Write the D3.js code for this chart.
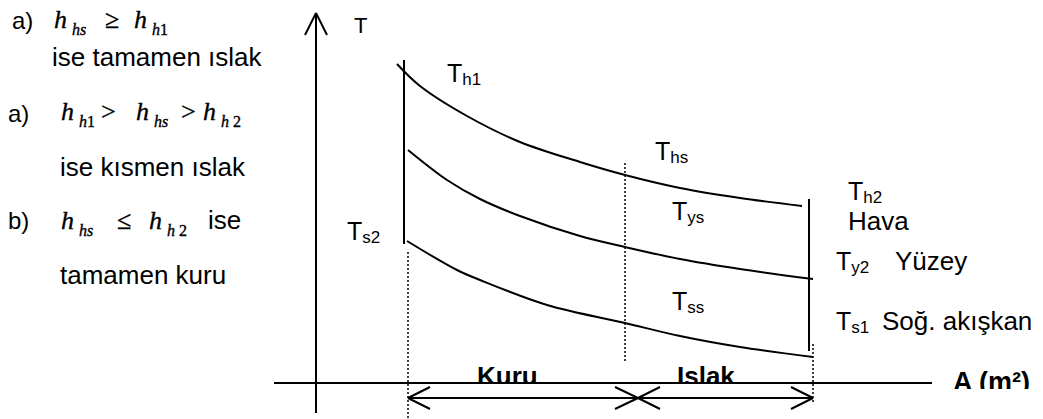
<!DOCTYPE html>
<html lang="tr">
<head>
  <meta charset="utf-8">
  <title>Islak / kuru yüzey</title>
  <script src="https://cdn.jsdelivr.net/npm/d3@7/dist/d3.min.js"></script>
  <style>
    body { margin: 0; background: #fff; }
    svg { display: block; }
    .sans { font-family: "Liberation Sans", Arial, sans-serif; }
    .math { font-family: "Liberation Serif", "Times New Roman", serif; stroke: #000; stroke-width: 0.35px; }
  </style>
</head>
<body>
  <div id="chart"></div>
  <script>
    var width = 1043, height = 419;

    // curves (A and T in arbitrary units)
    var thA = [81, 104, 151, 204, 264, 309, 364, 424, 486];
    var thT = [319, 297, 267, 241, 221, 208, 195, 185, 177];
    var tyA = [92, 131, 164, 204, 264, 309, 364, 424, 497];
    var tyT = [233, 203, 184, 167, 147, 136, 124, 114, 104];
    var tsA = [91, 141, 164, 231, 309, 364, 424, 497];
    var tsT = [142, 113, 103, 78, 60, 47, 36, 26];

    // boundaries: start, dry/wet change, end
    var aStart = 92, aChange = 309, aEnd = 497;

    var svg = d3.select('#chart').append('svg')
      .attr('width', width)
      .attr('height', height);

    var x = d3.scaleLinear().domain([0, 616]).range([316, 932]);
    var y = d3.scaleLinear().domain([0, 370]).range([383, 13]);

    var line = d3.line()
      .x(function (d) { return x(d[0]); })
      .y(function (d) { return y(d[1]); })
      .curve(d3.curveCatmullRom.alpha(0.5));

    function seg(a1, t1, a2, t2, dash) {
      svg.append('line')
        .attr('x1', x(a1)).attr('y1', y(t1))
        .attr('x2', x(a2)).attr('y2', y(t2))
        .attr('stroke', '#000')
        .attr('stroke-width', dash ? 1.5 : 2)
        .attr('stroke-dasharray', dash ? '2,2' : null);
    }

    // curves
    [[thA, thT], [tyA, tyT], [tsA, tsT]].forEach(function (c) {
      svg.append('path')
        .datum(d3.zip(c[0], c[1]))
        .attr('d', line)
        .attr('fill', 'none')
        .attr('stroke', '#000')
        .attr('stroke-width', 2);
    });

    // solid verticals (inlet / outlet)
    seg(88, 323, 88, 139);
    seg(493, 184, 493, 32);

    // dotted guides
    seg(aStart, 131, aStart, -36, true);
    seg(aChange, 220, aChange, 21, true);
    seg(aEnd, 39, aEnd, -20, true);

    // axes
    seg(0, 370, 0, -30);
    seg(0, 370, -11, 348);
    seg(0, 370, 11, 348);
    seg(-42, 0, 616, 0);

    // double arrow under the axis
    seg(aStart, -15, aEnd, -15);
    seg(aStart, -15, aStart + 22, -4);
    seg(aStart, -15, aStart + 22, -26);
    seg(aEnd, -15, aEnd - 22, -4);
    seg(aEnd, -15, aEnd - 22, -26);
    seg(aChange + 13, -15, aChange - 10, -4);
    seg(aChange + 13, -15, aChange - 10, -26);
    seg(aChange + 13, -15, aChange + 35, -4);
    seg(aChange + 13, -15, aChange + 35, -26);

    // T labels with subscripts
    var tSubs = ['h1', 'hs', 'ys', 'ss', 's2', 'h2', 'y2', 's1'];
    var tSubA = [131, 339, 356, 356, 31, 532, 520, 520];
    var tSubT = [301, 223, 163, 73, 143, 183, 113, 53];

    tSubs.forEach(function (s, i) {
      var t = svg.append('text').attr('class', 'sans')
        .attr('x', x(tSubA[i])).attr('y', y(tSubT[i]))
        .style('font-size', '25px')
        .text('T');
      t.append('tspan').attr('dy', 3).style('font-size', '17px').text(s);
    });

    var words = ['Hava', 'Yüzey', 'Soğ. akışkan'];
    var wordA = [532, 579, 566];
    var wordT = [153, 113, 53];
    words.forEach(function (w, i) {
      svg.append('text').attr('class', 'sans')
        .attr('x', x(wordA[i])).attr('y', y(wordT[i]))
        .style('font-size', '26px')
        .text(w);
    });

    svg.append('text').attr('class', 'sans')
      .attr('x', x(38)).attr('y', y(350))
      .style('font-size', '22px').text('T');

    // bold labels, cut by the axis line
    svg.append('clipPath').attr('id', 'cutAxis')
      .append('rect').attr('x', 0).attr('y', 0).attr('width', width).attr('height', y(0));
    svg.append('clipPath').attr('id', 'cutA')
      .append('rect').attr('x', 0).attr('y', 0).attr('width', width).attr('height', y(-6));

    var zones = ['Kuru', 'Islak'];
    var zoneA = [161, 361];
    zones.forEach(function (z, i) {
      svg.append('text').attr('class', 'sans')
        .attr('x', x(zoneA[i])).attr('y', y(-2))
        .attr('clip-path', 'url(#cutAxis)')
        .style('font-size', '26px').style('font-weight', 'bold')
        .text(z);
    });
    svg.append('text').attr('class', 'sans')
      .attr('x', x(637)).attr('y', y(-8))
      .attr('clip-path', 'url(#cutA)')
      .style('font-size', '27px').style('font-weight', 'bold')
      .text('A (m²)');

    // left column: conditions
    function txt(px, py, s, cls, size, italic) {
      svg.append('text').attr('class', cls)
        .attr('x', px).attr('y', py)
        .style('font-size', size + 'px')
        .style('font-style', italic ? 'italic' : 'normal')
        .text(s);
    }
    function hSub(px, py, sub) {
      txt(px, py, 'h', 'math', 26, true);
      var t = svg.append('text').attr('class', 'math')
        .attr('x', px + 18).attr('y', py + 7)
        .style('font-size', '16px');
      t.append('tspan').style('font-style', 'italic').text(sub[0]);
      t.append('tspan').style('font-style', sub[sub.length - 1] >= '0' && sub[sub.length - 1] <= '9' ? 'normal' : 'italic')
        .attr('dx', sub.length > 2 ? 4 : 0)
        .text(sub[sub.length - 1]);
    }

    txt(12, 29, 'a)', 'sans', 24);
    hSub(54, 28, 'hs');
    txt(105, 28, '≥', 'math', 26);
    hSub(134, 28, 'h1');
    txt(52, 66, 'ise tamamen ıslak', 'sans', 26);

    txt(8, 122, 'a)', 'sans', 24);
    hSub(61, 120, 'h1');
    txt(101, 120, '>', 'math', 26);
    hSub(136, 120, 'hs');
    txt(181, 120, '>', 'math', 26);
    hSub(203, 120, 'h 2');
    txt(60, 176, 'ise kısmen ıslak', 'sans', 26);

    txt(8, 229, 'b)', 'sans', 24);
    hSub(61, 229, 'hs');
    txt(117, 229, '≤', 'math', 26);
    hSub(149, 229, 'h 2');
    txt(208, 229, 'ise', 'sans', 26);
    txt(60, 284, 'tamamen kuru', 'sans', 26);
  </script>
</body>
</html>
